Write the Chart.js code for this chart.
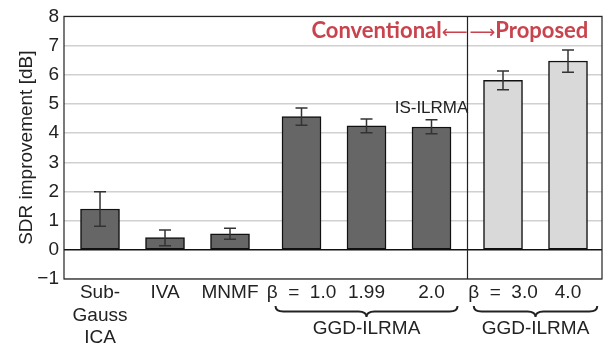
<!DOCTYPE html>
<html lang="en">
<head>
    <meta charset="UTF-8">
    <title>SDR improvement</title>
    <script src="https://cdn.jsdelivr.net/npm/chart.js"></script>
    <style>
        body { margin: 0; background: #fff; }
        #wrap { width: 610px; height: 343px; }
    </style>
</head>
<body>
    <div id="wrap"><canvas id="sdrChart" width="610" height="343"></canvas></div>

    <script>
        // Methods, their x positions (gaps between groups) and SDR results
        const labels = [['Sub-', 'Gauss', 'ICA'], 'IVA', 'MNMF', 'β  =  1.0', '1.99', '2.0', 'β  =  3.0', '4.0'];
        const positions = [1, 2, 3, 4.1, 5.1, 6.1, 7.2, 8.2];
        const sdr = [1.40, 0.42, 0.55, 4.57, 4.25, 4.21, 5.81, 6.47];
        const errLow = [0.81, 0.14, 0.36, 4.27, 4.01, 3.98, 5.49, 6.09];
        const errHigh = [1.99, 0.68, 0.74, 4.86, 4.48, 4.46, 6.13, 6.85];
        const proposed = [false, false, false, false, false, false, true, true];
        const yTicks = [-1, 0, 1, 2, 3, 4, 5, 6, 7, 8];

        const FONT = '"Liberation Sans", Arial, sans-serif';
        const RED = '#c8434d';
        const DIVIDER = 6.65;   // between beta = 2.0 and beta = 3.0

        // Frame, divider, error bars, braces and annotations
        const extras = {
            id: 'extras',
            afterDatasetsDraw(chart) {
                const ctx = chart.ctx;
                const area = chart.chartArea;
                const xs = chart.scales.x;
                const ys = chart.scales.y;
                ctx.save();

                // error bars
                ctx.strokeStyle = '#333';
                ctx.lineWidth = 1.5;
                positions.forEach((p, i) => {
                    const x = xs.getPixelForValue(p);
                    const y1 = ys.getPixelForValue(errLow[i]);
                    const y2 = ys.getPixelForValue(errHigh[i]);
                    ctx.beginPath();
                    ctx.moveTo(x, y1); ctx.lineTo(x, y2);
                    ctx.moveTo(x - 6, y1); ctx.lineTo(x + 6, y1);
                    ctx.moveTo(x - 6, y2); ctx.lineTo(x + 6, y2);
                    ctx.stroke();
                });

                // plot frame and divider
                ctx.strokeStyle = '#222';
                ctx.lineWidth = 1.2;
                ctx.strokeRect(area.left, area.top, area.right - area.left, area.bottom - area.top);
                const xd = Math.round(xs.getPixelForValue(DIVIDER)) + 0.5;
                ctx.beginPath();
                ctx.moveTo(xd, area.top); ctx.lineTo(xd, area.bottom);
                ctx.stroke();

                // Conventional <-> Proposed
                const yt = area.top + 22;
                ctx.fillStyle = RED;
                ctx.textBaseline = 'alphabetic';
                ctx.font = '18px "DejaVu Sans"';
                ctx.textAlign = 'right';
                ctx.fillText('⟵', xd, yt);
                const wl = ctx.measureText('⟵').width;
                ctx.textAlign = 'left';
                ctx.fillText('⟶', xd + 2, yt);
                const wr = ctx.measureText('⟶').width;
                ctx.font = 'bold 22px Lato, ' + FONT;
                ctx.textAlign = 'right';
                ctx.fillText('Conventional', xd - wl, yt);
                ctx.textAlign = 'left';
                ctx.fillText('Proposed', xd + 2 + wr, yt);

                // IS-ILRMA note above the beta = 2.0 bar
                ctx.fillStyle = '#222';
                ctx.font = '17px ' + FONT;
                ctx.textAlign = 'center';
                ctx.textBaseline = 'middle';
                ctx.fillText('IS-ILRMA', xs.getPixelForValue(positions[5]), ys.getPixelForValue(4.85));

                // braces under the GGD-ILRMA groups
                const groups = [[positions[3] - 0.4, positions[5] + 0.4], [positions[6] - 0.45, positions[7] + 0.45]];
                const yb = area.bottom + 27;
                groups.forEach(([a, b]) => {
                    const x1 = xs.getPixelForValue(a);
                    const x2 = xs.getPixelForValue(b);
                    const xm = (x1 + x2) / 2;
                    const h = 11;
                    ctx.strokeStyle = '#222';
                    ctx.lineWidth = 2;
                    ctx.beginPath();
                    ctx.moveTo(x1, yb);
                    ctx.quadraticCurveTo(x1, yb + h / 2, x1 + 8, yb + h / 2);
                    ctx.lineTo(xm - 8, yb + h / 2);
                    ctx.quadraticCurveTo(xm, yb + h / 2, xm, yb + h);
                    ctx.quadraticCurveTo(xm, yb + h / 2, xm + 8, yb + h / 2);
                    ctx.lineTo(x2 - 8, yb + h / 2);
                    ctx.quadraticCurveTo(x2, yb + h / 2, x2, yb);
                    ctx.stroke();
                    ctx.fillStyle = '#222';
                    ctx.font = '19px ' + FONT;
                    ctx.textAlign = 'center';
                    ctx.textBaseline = 'middle';
                    ctx.fillText('GGD-ILRMA', xm, yb + h + 12);
                });
                ctx.restore();
            }
        };

        new Chart(document.getElementById('sdrChart'), {
            type: 'bar',
            data: {
                datasets: [{
                    data: positions.map((p, i) => ({ x: p, y: sdr[i] })),
                    backgroundColor: proposed.map(p => p ? '#d9d9d9' : '#666666'),
                    borderColor: '#111',
                    borderWidth: 1.5,
                    borderSkipped: false,
                    barThickness: 39
                }]
            },
            options: {
                responsive: false,
                animation: false,
                layout: { padding: { top: 13, right: 8, left: 0, bottom: 0 } },
                plugins: { legend: { display: false }, tooltip: { enabled: false } },
                scales: {
                    x: {
                        type: 'linear',
                        min: 0.446,
                        max: 8.723,
                        offset: false,
                        grid: { display: false, drawTicks: false },
                        border: { display: false },
                        afterBuildTicks: scale => { scale.ticks = positions.map(v => ({ value: v })); },
                        afterFit: scale => { scale.height = 64; },
                        ticks: {
                            autoSkip: false,
                            maxRotation: 0,
                            padding: 3,
                            color: '#222',
                            font: { family: FONT, size: 19, lineHeight: 1.17 },
                            callback: (value, index) => labels[index]
                        }
                    },
                    y: {
                        min: -1,
                        max: 8,
                        afterBuildTicks: scale => { scale.ticks = yTicks.map(v => ({ value: v })); },
                        afterFit: scale => { scale.width = 64; },
                        border: { display: false },
                        grid: {
                            drawTicks: false,
                            lineWidth: 1.5,
                            color: c => c.tick.value === 0 ? '#111' : '#d0d0d0'
                        },
                        ticks: {
                            padding: 5,
                            color: '#222',
                            font: { family: FONT, size: 19 },
                            callback: v => v < 0 ? '\u2212' + Math.abs(v) : v
                        },
                        title: {
                            display: true,
                            text: 'SDR improvement [dB]',
                            color: '#222',
                            font: { family: FONT, size: 19 },
                            padding: { top: 15, bottom: 0 }
                        }
                    }
                }
            },
            plugins: [extras]
        });
    </script>
</body>
</html>
